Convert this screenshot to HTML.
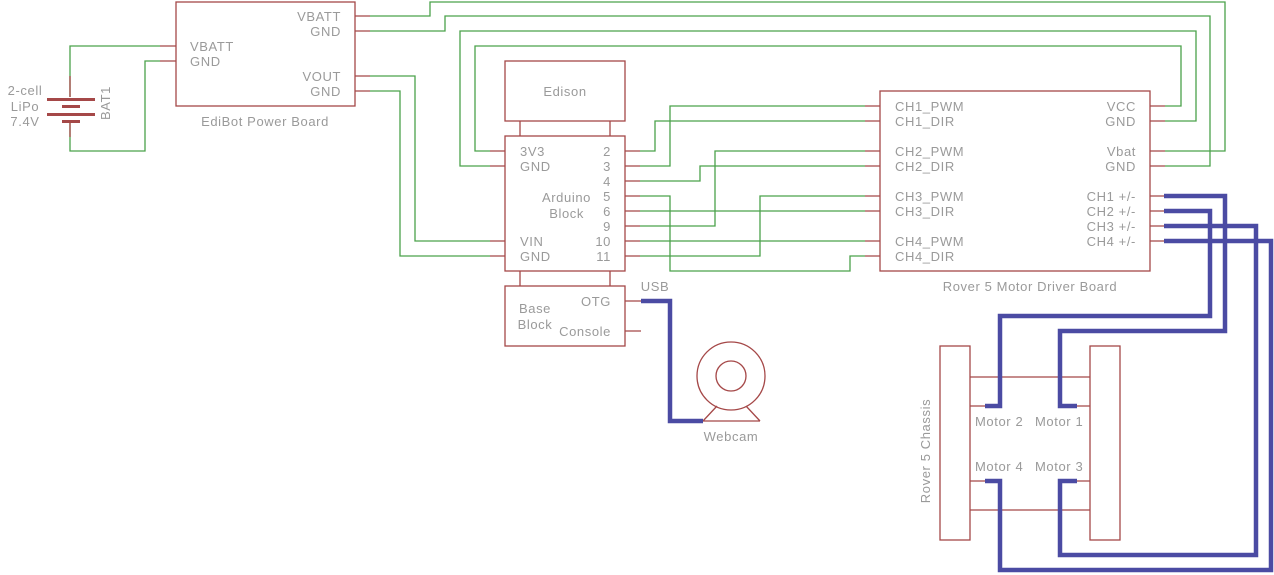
<!DOCTYPE html>
<html><head><meta charset="utf-8"><style>
html,body{margin:0;padding:0;background:#fff;width:1274px;height:575px;overflow:hidden}
svg{display:block}
text{font-family:"Liberation Sans",sans-serif;font-size:13px;letter-spacing:0.6px;fill:#9a9a9a}
</style></head><body>
<svg width="1274" height="575" viewBox="0 0 1274 575" xmlns="http://www.w3.org/2000/svg">
<g fill="none" stroke="#4aa24a" stroke-width="1.3">
<polyline points="160,46 70,46 70,97"/>
<polyline points="160,61 145,61 145,151 70,151 70,123"/>
<polyline points="370,16 430,16 430,2 1225,2 1225,151 1165,151"/>
<polyline points="370,31 445,31 445,16 1210,16 1210,166 1165,166"/>
<polyline points="490,166 460,166 460,31 1196,31 1196,121 1165,121"/>
<polyline points="490,151 475,151 475,46 1181,46 1181,106 1165,106"/>
<polyline points="370,76 415,76 415,241 490,241"/>
<polyline points="370,91 400,91 400,256 490,256"/>
<polyline points="640,151 655,151 655,121 865,121"/>
<polyline points="640,166 670,166 670,106 865,106"/>
<polyline points="640,181 700,181 700,166 865,166"/>
<polyline points="640,196 670,196 670,271 850,271 850,256 865,256"/>
<polyline points="640,211 865,211"/>
<polyline points="640,226 715,226 715,151 865,151"/>
<polyline points="640,241 865,241"/>
<polyline points="640,256 760,256 760,196 865,196"/>
</g>
<g fill="none" stroke="#a54848" stroke-width="1.3">
<rect x="176" y="2" width="179" height="104"/>
<path d="M355 16H370M355 31H370M355 76H370M355 91H370M160 46H176M160 61H176"/>
<path d="M70 76V97M70 123V137"/>
<rect x="505" y="61" width="120" height="60"/>
<path d="M520 121V136M610 121V136M520 271V286M610 271V286"/>
<rect x="505" y="136" width="120" height="135"/>
<path d="M490 151H505M490 166H505M490 241H505M490 256H505"/>
<path d="M625 151H640M625 166H640M625 181H640M625 196H640M625 211H640M625 226H640M625 241H640M625 256H640"/>
<rect x="505" y="286" width="120" height="60"/>
<path d="M625 301H641M625 331H641"/>
<circle cx="731" cy="376" r="34"/>
<circle cx="731" cy="376" r="15"/>
<path d="M703 421H760M703 421L717 406M760 421L746 406"/>
<rect x="880" y="91" width="270" height="180"/>
<path d="M865 106H880M865 121H880M865 151H880M865 166H880M865 196H880M865 211H880M865 241H880M865 256H880"/>
<path d="M1150 106H1165M1150 121H1165M1150 151H1165M1150 166H1165M1150 196H1165M1150 211H1165M1150 226H1165M1150 241H1165"/>
<rect x="940" y="346" width="30" height="194"/>
<rect x="1090" y="346" width="30" height="194"/>
<path d="M970 377H1090M970 510H1090M970 406H985M1077 406H1090M970 481H985M1077 481H1090"/>
</g>
<g fill="#a54848">
<rect x="47" y="98" width="48" height="3"/>
<rect x="62" y="105" width="18" height="3"/>
<rect x="47" y="113" width="48" height="3"/>
<rect x="62" y="120" width="18" height="3"/>
</g>
<g fill="none" stroke="#4b4ba3" stroke-width="4.5" stroke-linejoin="miter">
<polyline points="641,301 670,301 670,421 703,421"/>
<polyline points="1164,196 1225,196 1225,331 1060,331 1060,406 1077,406"/>
<polyline points="1164,211 1210,211 1210,316 1000,316 1000,406 985,406"/>
<polyline points="1164,226 1256,226 1256,555 1060,555 1060,481 1077,481"/>
<polyline points="1164,241 1271,241 1271,570 1000,570 1000,481 985,481"/>
</g>
<text x="25" y="95" text-anchor="middle">2-cell</text>
<text x="25" y="111" text-anchor="middle">LiPo</text>
<text x="25" y="126" text-anchor="middle">7.4V</text>
<text transform="translate(110,103) rotate(-90)" text-anchor="middle">BAT1</text>
<text x="190" y="51">VBATT</text>
<text x="190" y="66">GND</text>
<text x="341" y="21" text-anchor="end">VBATT</text>
<text x="341" y="36" text-anchor="end">GND</text>
<text x="341" y="81" text-anchor="end">VOUT</text>
<text x="341" y="96" text-anchor="end">GND</text>
<text x="265" y="126" text-anchor="middle">EdiBot Power Board</text>
<text x="565" y="96" text-anchor="middle">Edison</text>
<text x="520" y="156">3V3</text>
<text x="520" y="171">GND</text>
<text x="520" y="246">VIN</text>
<text x="520" y="261">GND</text>
<text x="591" y="202" text-anchor="end">Arduino</text>
<text x="584" y="218" text-anchor="end">Block</text>
<g text-anchor="end">
<text x="611" y="156">2</text><text x="611" y="171">3</text><text x="611" y="186">4</text><text x="611" y="201">5</text>
<text x="611" y="216">6</text><text x="611" y="231">9</text><text x="611" y="246">10</text><text x="611" y="261">11</text>
</g>
<text x="535" y="313" text-anchor="middle">Base</text>
<text x="535" y="329" text-anchor="middle">Block</text>
<text x="611" y="306" text-anchor="end">OTG</text>
<text x="611" y="336" text-anchor="end">Console</text>
<text x="655" y="291" text-anchor="middle">USB</text>
<text x="731" y="441" text-anchor="middle">Webcam</text>
<text x="895" y="111">CH1_PWM</text>
<text x="895" y="126">CH1_DIR</text>
<text x="895" y="156">CH2_PWM</text>
<text x="895" y="171">CH2_DIR</text>
<text x="895" y="201">CH3_PWM</text>
<text x="895" y="216">CH3_DIR</text>
<text x="895" y="246">CH4_PWM</text>
<text x="895" y="261">CH4_DIR</text>
<g text-anchor="end">
<text x="1136" y="111">VCC</text><text x="1136" y="126">GND</text>
<text x="1136" y="156">Vbat</text><text x="1136" y="171">GND</text>
<text x="1136" y="201">CH1 +/-</text><text x="1136" y="216">CH2 +/-</text>
<text x="1136" y="231">CH3 +/-</text><text x="1136" y="246">CH4 +/-</text>
</g>
<text x="1030" y="291" text-anchor="middle">Rover 5 Motor Driver Board</text>
<text x="975" y="426">Motor 2</text>
<text x="1035" y="426">Motor 1</text>
<text x="975" y="471">Motor 4</text>
<text x="1035" y="471">Motor 3</text>
<text transform="translate(930,451) rotate(-90)" text-anchor="middle">Rover 5 Chassis</text>
</svg>
</body></html>
